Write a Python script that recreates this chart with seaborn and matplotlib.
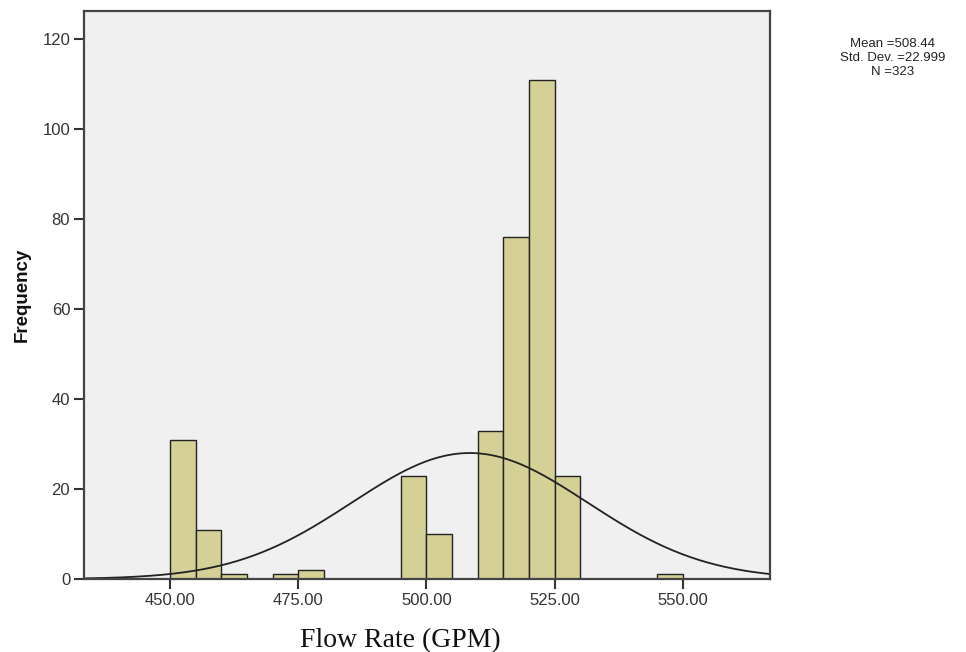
import numpy as np
import pandas as pd
import matplotlib
matplotlib.use("Agg")
import matplotlib.pyplot as plt
import seaborn as sns

# Data (bin width 5)
bin_left = [450, 455, 460, 470, 475, 495, 500, 510, 515, 520, 525, 545]
counts = [31, 11, 1, 1, 2, 23, 10, 33, 76, 111, 23, 1]
x_ticks = [450, 475, 500, 525, 550]
x_tick_labels = ["450.00", "475.00", "500.00", "525.00", "550.00"]
y_ticks = [0, 20, 40, 60, 80, 100, 120]
mean_val = 508.44
sd_val = 22.999
n_val = 323
bin_width = 5
stat_lines = ["Mean =508.44", "Std. Dev. =22.999", "N =323"]

df = pd.DataFrame({"flow": [b + bin_width / 2 for b in bin_left], "count": counts})

sns.set_theme(style="white")
plt.rcParams["font.family"] = ["Liberation Sans", "DejaVu Sans"]

fig = plt.figure(figsize=(9.66, 6.52), dpi=100)
ax = fig.add_axes([0.087, 0.112, 0.710, 0.871])
ax.set_facecolor("#F0F0F0")

sns.histplot(data=df, x="flow", weights="count", binwidth=bin_width, binrange=(450, 550), ax=ax,
             color="#D4D096", edgecolor="#222222", linewidth=1.0, alpha=1.0)

xlim = (433.2, 567.0)
xs = np.linspace(xlim[0], xlim[1], 400)
ys = n_val * bin_width / (sd_val * np.sqrt(2 * np.pi)) * np.exp(-0.5 * ((xs - mean_val) / sd_val) ** 2)
ax.plot(xs, ys, color="#222222", linewidth=1.3)

ax.set_xlim(*xlim)
ax.set_ylim(0, 126.3)
ax.set_xticks(x_ticks)
ax.set_xticklabels(x_tick_labels)
ax.set_yticks(y_ticks)

for s in ax.spines.values():
    s.set_color("#444444")
    s.set_linewidth(1.6)

ax.tick_params(axis="both", direction="out", length=7, width=1.5, color="#333333",
               labelsize=12, labelcolor="#333333", bottom=True, left=True, pad=3)

ax.set_ylabel("Frequency", fontsize=13.5, fontweight="bold", color="#111111", labelpad=8)
ax.set_xlabel("")
fig.text(400.5 / 966, 1 - 647 / 652, "Flow Rate (GPM)", ha="center", va="baseline",
         fontsize=20, family=["Liberation Serif", "DejaVu Serif"], color="#111111")

for line, ypx in zip(stat_lines, [44.0, 58.0, 72.0]):
    fig.text(893 / 966, 1 - ypx / 652, line, ha="center", va="center",
             fontsize=9.5, color="#222222")

fig.savefig("out.png", dpi=100)
